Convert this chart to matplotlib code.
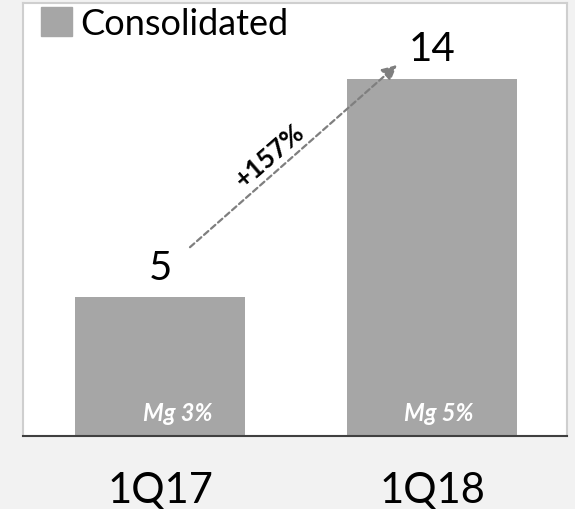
import matplotlib.pyplot as plt
from matplotlib.patches import Patch

plt.rcParams['font.family'] = ['Lato', 'DejaVu Sans']

# consolidated result per quarter
quarters = ['1Q17', '1Q18']
values = [5.4, 13.9]
margins = ['Mg 3%', 'Mg 5%']

BAR_COLOR = '#a6a6a6'

fig = plt.figure(figsize=(5.75, 5.1), dpi=100, facecolor='#f2f2f2')
ax = fig.add_axes([0.04, 0.143, 0.946, 0.849])
ax.set_facecolor('white')

x = list(range(len(quarters)))
ax.bar(x, values, width=0.625, color=BAR_COLOR, zorder=2)
ax.set_xlim(-0.504, 1.496)
ax.set_ylim(0, 16.85)

# value labels on top of bars
for xi, v in zip(x, values):
    ax.text(xi, v + 0.45, f'{v:.0f}', ha='center', va='bottom',
            fontsize=29, color='black')

# margins inside the bars
for xi, m, dx in zip(x, margins, [0.066, 0.026]):
    ax.text(xi + dx, 0.93, m, ha='center', va='center', fontsize=17,
            color='white', fontweight='bold', fontstyle='italic')

# growth arrow between the two quarters
growth = values[1] / values[0] - 1
ax.annotate('', xy=(0.871, 14.44), xytext=(0.11, 7.35),
            arrowprops=dict(arrowstyle='-|>', color='#7f7f7f', lw=1.6,
                            linestyle=(0, (2.6, 1.6)), mutation_scale=22,
                            shrinkA=0, shrinkB=0))
ax.text(0.405, 10.95, f'+{growth * 100:.0f}%', rotation=41, ha='center',
        va='center', fontsize=19, fontweight='bold', color='black')

ax.set_xticks(x, quarters)
ax.tick_params(axis='x', length=0, pad=25, labelsize=30)
ax.set_yticks([])
for side in ['left', 'right', 'top']:
    ax.spines[side].set_color('#cfcfcf')
    ax.spines[side].set_linewidth(1.5)
ax.spines['bottom'].set_color('#404040')
ax.spines['bottom'].set_linewidth(1.5)

ax.legend(handles=[Patch(color=BAR_COLOR, label='Consolidated')],
          loc='upper left', bbox_to_anchor=(0.033, 0.99), frameon=False,
          fontsize=26, handlelength=0.86, handleheight=0.86,
          handletextpad=0.22, borderpad=0, borderaxespad=0)

fig.savefig('out.png', dpi=100, facecolor=fig.get_facecolor())
